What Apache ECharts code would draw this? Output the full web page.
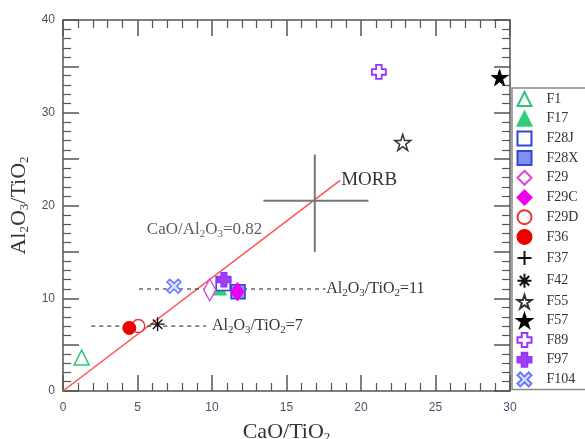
<!DOCTYPE html>
<html>
<head>
<meta charset="utf-8">
<script src="https://cdn.jsdelivr.net/npm/echarts@6/dist/echarts.min.js"></script>
<style>
  html, body { margin: 0; padding: 0; background: #fff; }
  #main { width: 585px; height: 439px; }
</style>
</head>
<body>
<div id="main"></div>
<script>
// sample names, legend order
var names = ['F1','F17','F28J','F28X','F29','F29C','F29D','F36','F37','F42','F55','F57','F89','F97','F104'];
// CaO/TiO2 , Al2O3/TiO2
var F1 = [[1.25, 3.6]];
var F17 = [[10.5, 11.1]];
var F28J = [[10.75, 11.6]];
var F28X = [[11.75, 10.7]];
var F29 = [[9.85, 10.9]];
var F29C = [[11.7, 10.7]];
var F29D = [[5.05, 7.0]];
var F36 = [[4.45, 6.8]];
var F37 = [];
var F42 = [[6.35, 7.2]];
var F55 = [[22.8, 26.8]];
var F57 = [[29.3, 33.8]];
var F89 = [[21.2, 34.4]];
var F97 = [[10.8, 12.0]];
var F104 = [[7.45, 11.3]];

// reference lines
var ratioLine = [[0, 0], [18.6, 22.7]];          // CaO/Al2O3=0.82
var line11 = [[5.1, 11], [17.6, 11]];             // Al2O3/TiO2=11
var line7 = [[1.9, 7], [9.6, 7]];                 // Al2O3/TiO2=7
var morbH = [[13.45, 20.5], [20.5, 20.5]];
var morbV = [[16.9, 15.0], [16.9, 25.5]];
var notePos = [[9.5, 17.4]];

var xTicks = [0, 5, 10, 15, 20, 25, 30];
var yTicks = [0, 10, 20, 30, 40];

var P_PLUS = 'path://M3,0H7V3H10V7H7V10H3V7H0V3H3Z';
var P_X = 'path://M2,0L5,3L8,0L10,2L7,5L10,8L8,10L5,7L2,10L0,8L3,5L0,2Z';
var P_STAR = 'path://M5,0L6.2,3.6L10,3.6L6.9,5.9L8.1,9.5L5,7.3L1.9,9.5L3.1,5.9L0,3.6L3.8,3.6Z';
var P_CROSS = 'path://M5,0V10M0,5H10';
var P_AST = 'path://M5,0V10M0,5H10M1.6,1.6L8.4,8.4M8.4,1.6L1.6,8.4';

var serif = '"Liberation Serif", "Times New Roman", serif';
var subRich = {
    s: { fontSize: 11, fontFamily: serif, color: '#333', padding: [8, 0, 0, 0] }
};

function pt(name, data, symbol, size, fill, stroke, bw) {
    return {
        name: name, type: 'scatter', data: data,
        symbol: symbol, symbolSize: size,
        itemStyle: { color: fill, borderColor: stroke, borderWidth: bw, opacity: 1 }
    };
}

function ref(data, color, type, width, label, fs, dist) {
    var s = {
        type: 'line', data: data, symbol: 'none', silent: true,
        lineStyle: { color: color, type: type, width: width },
        z: 1
    };
    if (label) {
        s.endLabel = {
            show: true, formatter: label, distance: dist || 1,
            fontFamily: serif, fontSize: fs || 16, color: '#333', rich: subRich
        };
    }
    return s;
}

var chart = echarts.init(document.getElementById('main'));

function axisBase(pos, labels) {
    return {
        type: 'value', position: pos, min: 0,
        axisLine: { show: true, onZero: false, lineStyle: { color: '#555', width: 1.5 } },
        axisTick: { show: true, inside: true, length: 16, lineStyle: { color: '#555', width: 1.5 } },
        minorTick: { show: true, splitNumber: 5, length: 8, lineStyle: { color: '#555', width: 1.2 } },
        splitLine: { show: false },
        axisLabel: { show: labels, color: '#5a4a6a', fontSize: 12, fontFamily: 'Arial, sans-serif' }
    };
}

var nameRich = { s: { fontSize: 13, fontFamily: serif, color: '#333', padding: [10, 0, 0, 0] } };

var xb = axisBase('bottom', true);
xb.max = 30; xb.interval = 5;
xb.axisLabel.margin = 11;
xb.name = 'CaO/TiO{s|2}';
xb.nameLocation = 'middle';
xb.nameGap = 30;
xb.nameTextStyle = { fontFamily: serif, fontSize: 22, color: '#333', rich: nameRich };
var xt = axisBase('top', false);
xt.max = 30; xt.interval = 5;

var yl = axisBase('left', true);
yl.max = 40; yl.interval = 5;
yl.axisLabel.margin = 8;
yl.axisLabel.formatter = function (v) { return yTicks.indexOf(v) >= 0 ? v : ''; };
yl.name = 'Al{s|2}O{s|3}/TiO{s|2}';
yl.nameLocation = 'middle';
yl.nameGap = 32;
yl.nameRotate = 90;
yl.nameTextStyle = { fontFamily: serif, fontSize: 22, color: '#333', rich: nameRich };
var yr = axisBase('right', false);
yr.max = 40; yr.interval = 5;

var series = [
    ref(ratioLine, '#ff5050', 'solid', 1.5, 'MORB', 19),
    ref(line11, '#222', [4, 4], 1, 'Al{s|2}O{s|3}/TiO{s|2}=11'),
    ref(line7, '#222', [4, 4], 1, 'Al{s|2}O{s|3}/TiO{s|2}=7', 16, 6),
    ref(morbH, '#777', 'solid', 2),
    ref(morbV, '#777', 'solid', 2),
    {
        type: 'scatter', data: notePos, symbolSize: 0, silent: true,
        label: { show: true, position: 'inside', formatter: 'CaO/Al{s|2}O{s|3}=0.82',
            fontFamily: serif, fontSize: 17, color: '#333', rich: subRich }
    },
    pt('F1', F1, 'triangle', 15, '#fff', '#33c47a', 1.5),
    pt('F17', F17, 'triangle', 14, '#33cc77', '#33cc77', 1),
    pt('F28J', F28J, 'rect', 14, '#fff', '#3344dd', 1.5),
    pt('F28X', F28X, 'rect', 14, '#8090ee', '#3344dd', 1.5),
    pt('F29', F29, 'diamond', [12, 22], '#fff', '#dd44dd', 1.5),
    pt('F29C', F29C, 'diamond', [13, 18], '#ee00ee', '#ee00ee', 1),
    pt('F29D', F29D, 'circle', 13, '#fff', '#ee3333', 1.5),
    pt('F36', F36, 'circle', 13, '#ee0000', '#ee0000', 1),
    pt('F37', F37, P_CROSS, 14, 'none', '#111', 1.3),
    pt('F42', F42, P_AST, 14, 'none', '#111', 1.3),
    pt('F55', F55, P_STAR, 16, '#fff', '#333', 1.5),
    pt('F57', F57, P_STAR, 16, '#000', '#000', 1),
    pt('F89', F89, P_PLUS, 14, '#fff', '#9933ff', 1.8),
    pt('F97', F97, P_PLUS, 14, '#a040f0', '#9933ff', 1.5),
    pt('F104', F104, P_X, 14, '#dde0ff', '#6677ff', 1.5)
];

chart.setOption({
    backgroundColor: '#fff',
    animation: false,
    grid: { left: 63, right: 75, top: 20, bottom: 48, outerBoundsMode: 'none', containLabel: false },
    xAxis: [xb, xt],
    yAxis: [yl, yr],
    legend: {
        data: names,
        orient: 'vertical',
        left: 512, top: 88,
        width: 80,
        padding: [3, 20, 2, 3],
        itemGap: 3.7,
        itemWidth: 14, itemHeight: 14,
        backgroundColor: '#fff',
        borderColor: '#888', borderWidth: 1.5,
        textStyle: { fontFamily: serif, fontSize: 14, lineHeight: 14, color: '#333', padding: [0, 0, 0, 10] }
    },
    series: series
});
</script>
</body>
</html>
